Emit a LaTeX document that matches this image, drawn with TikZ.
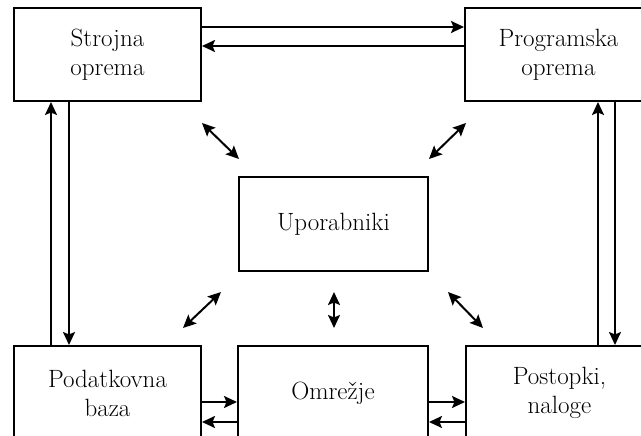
\documentclass[tikz,border=0pt]{standalone}
\usepackage{fontspec}
\usetikzlibrary{arrows.meta}

\tikzset{
  box/.style={draw, line width=2pt, rectangle, minimum width=187pt, minimum height=93pt,
    align=center, inner sep=0pt, font=\fontsize{25}{29}\selectfont},
  link/.style={line width=2pt, -{Stealth[length=13pt,width=12pt,inset=2.5pt]}},
  both/.style={line width=2pt, {Stealth[length=13pt,width=12pt,inset=2.5pt]}-{Stealth[length=13pt,width=12pt,inset=2.5pt]}}
}

\begin{document}
\begin{tikzpicture}[x=1pt, y=-1pt]
  \useasboundingbox (0,0) rectangle (641,436);
  \clip (0,0) rectangle (641,436);

  % the six blocks
  \node[box] (S) at (107.5,54.5) {Strojna\\oprema};
  \node[box] (P) at (558.5,54.5) {Programska\\oprema};
  \node[box, minimum width=189pt, minimum height=94pt] (U) at (333.5,224) {Uporabniki};
  \node[box, minimum height=94pt] (D) at (107.5,393) {Podatkovna\\baza};
  \node[box, minimum width=190pt, minimum height=94pt] (O) at (333,393) {Omrežje};
  \node[box, minimum height=94pt] (T) at (559.5,393) {Postopki,\\naloge};

  % paired links along the outer frame
  \draw[link] (S.east |- 0,27) -- (P.west |- 0,27);
  \draw[link] (P.west |- 0,46) -- (S.east |- 0,46);

  \draw[link] (D.north -| 51,0) -- (S.south -| 51,0);
  \draw[link] (S.south -| 69,0) -- (D.north -| 69,0);

  \draw[link] (T.north -| 598,0) -- (P.south -| 598,0);
  \draw[link] (P.south -| 615,0) -- (T.north -| 615,0);

  \draw[link] (D.east |- 0,402) -- (O.west |- 0,402);
  \draw[link] (O.west |- 0,422) -- (D.east |- 0,422);

  \draw[link] (O.east |- 0,402) -- (T.west |- 0,402);
  \draw[link] (T.west |- 0,422) -- (O.east |- 0,422);

  % users interact with every other block
  \coordinate (a1) at (202,123); \coordinate (b1) at (239,159);
  \coordinate (a2) at (466,123); \coordinate (b2) at (429,159);
  \coordinate (a3) at (221,292); \coordinate (b3) at (183,328);
  \coordinate (a4) at (334,292); \coordinate (b4) at (334,328);
  \coordinate (a5) at (448,292); \coordinate (b5) at (483,328);
  \foreach \i in {1,...,5} \draw[both] (a\i) -- (b\i);
\end{tikzpicture}
\end{document}
